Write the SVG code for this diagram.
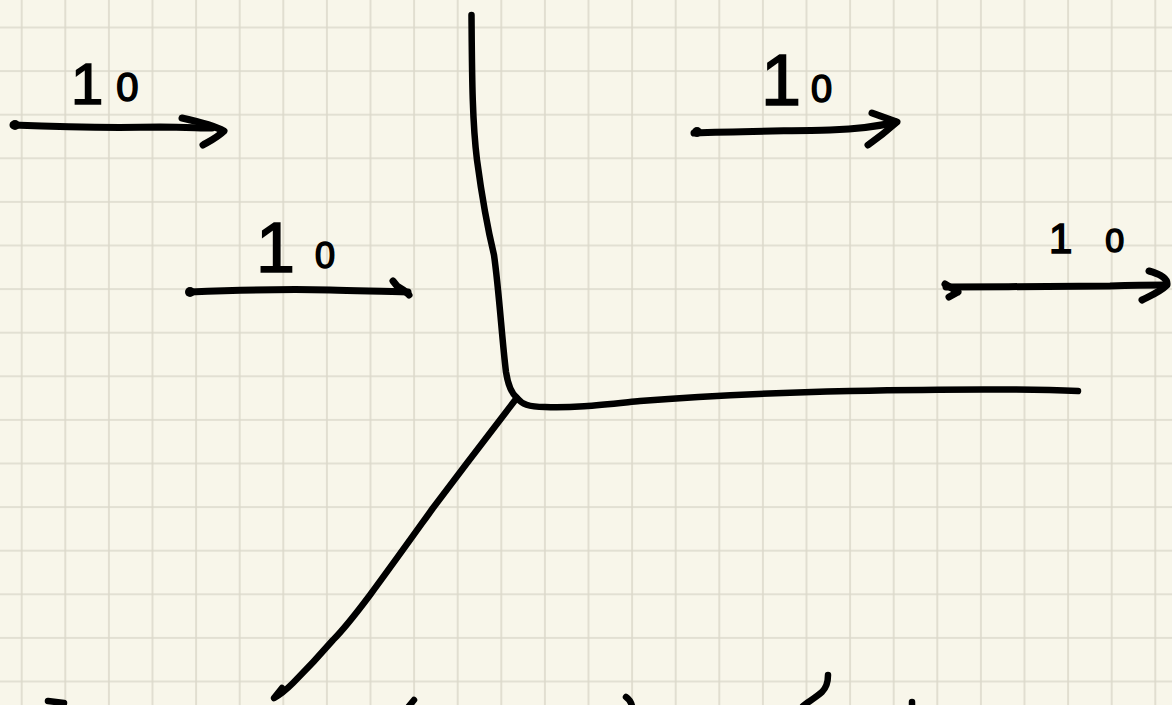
<svg xmlns="http://www.w3.org/2000/svg" width="1172" height="705" viewBox="0 0 1172 705">
  <defs>
    <pattern id="grid" patternUnits="userSpaceOnUse" x="20.7" y="26.5" width="43.6" height="43.6">
      <path d="M0,1 H43.6 M1,0 V43.6" stroke="#dcd9cb" stroke-width="1.6" fill="none"/>
    </pattern>
    <style>
      .ink { fill: none; stroke: #000; stroke-linecap: round; stroke-linejoin: round; }
      .main { stroke-width: 6.5; }
      .arrow { stroke-width: 7; }
      .lbl { font-family: "Liberation Sans", Arial, sans-serif; fill: #000; stroke: #000; stroke-width: 1.6; }
    </style>
  </defs>
  <rect width="1172" height="705" fill="#f8f6ea"/>
  <rect width="1172" height="705" fill="url(#grid)"/>

  <g id="connectors">
    <g id="junction">
      <path class="ink main" d="M471.5,15 C472,70 472,120 477,160 C481,190 488,230 494,255 C499,290 502,340 506,372 C508,385 511,393 517,398"/>
      <path class="ink main" d="M517,398 C522,404 528,407 545,407 C575,408 600,405 640,401 C700,396 760,393 850,391 C950,389 1030,389 1078,391"/>
      <path class="ink main" d="M516,399 C490,433 460,472 433,508 C410,540 390,568 370,595 C355,615 345,628 333,640 C320,655 306,670 293,683 C286,690 280,695 274,698 L282,688"/>
    </g>
    <g id="arrow-top-left">
      <path class="ink arrow" d="M13,125 C60,127 120,128 160,127 C185,127 200,128 212,128"/>
      <path class="ink arrow" d="M182,118 C200,122 215,126 224,131 C218,137 210,141 203,145"/>
      <circle cx="15" cy="125" r="5"/>
    </g>
    <g id="arrow-top-right">
      <path class="ink arrow" d="M694,133 C740,131 790,131 830,130 C860,129 880,126 896,122"/>
      <path class="ink arrow" d="M872,113 L897,122 C888,130 878,138 868,145"/>
      <circle cx="697" cy="132" r="5"/>
    </g>
    <g id="arrow-mid-left">
      <path class="ink arrow" d="M190,292 C240,290 290,289 330,290 C360,291 385,291 408,292"/>
      <path class="ink arrow" d="M393,281 L397,286 C402,289 406,291 409,295"/>
      <circle cx="190" cy="292" r="5"/>
    </g>
    <g id="arrow-right">
      <path class="ink arrow" d="M946,287 C1000,287 1060,286 1110,286 C1140,285 1155,285 1166,285"/>
      <path class="ink arrow" d="M1149,271 C1160,274 1168,278 1167,285 C1160,292 1150,296 1142,300"/>
      <path class="ink arrow" d="M945,284 L958,292 M949,297 L958,292"/>
    </g>
    <g id="bottom-marks">
      <path class="ink main" d="M48,701 L64,703"/>
      <path class="ink main" d="M414,700 L409,706"/>
      <path class="ink main" d="M626,697 C629,699 631,702 632,706"/>
      <path class="ink main" d="M828,675 C828,682 826,688 822,692 C815,698 808,702 803,706"/>
      <path class="ink main" d="M912,702 L912,706"/>
    </g>
  </g>

  <g id="label-top-left">
    <text class="lbl" x="71" y="104"><tspan font-size="58">1</tspan><tspan font-size="40" dx="13" dy="-3">0</tspan></text>
  </g>
  <g id="label-mid-left">
    <text class="lbl" x="256" y="272"><tspan font-size="70">1</tspan><tspan font-size="36" dx="20" dy="-4">0</tspan></text>
  </g>
  <g id="label-top-right">
    <text class="lbl" x="761" y="105"><tspan font-size="72">1</tspan><tspan font-size="38" dx="10" dy="-3">0</tspan></text>
  </g>
  <g id="label-right">
    <text class="lbl" x="1049" y="253"><tspan font-size="42">1</tspan><tspan font-size="34" dx="33" dy="-1">0</tspan></text>
  </g>
</svg>
